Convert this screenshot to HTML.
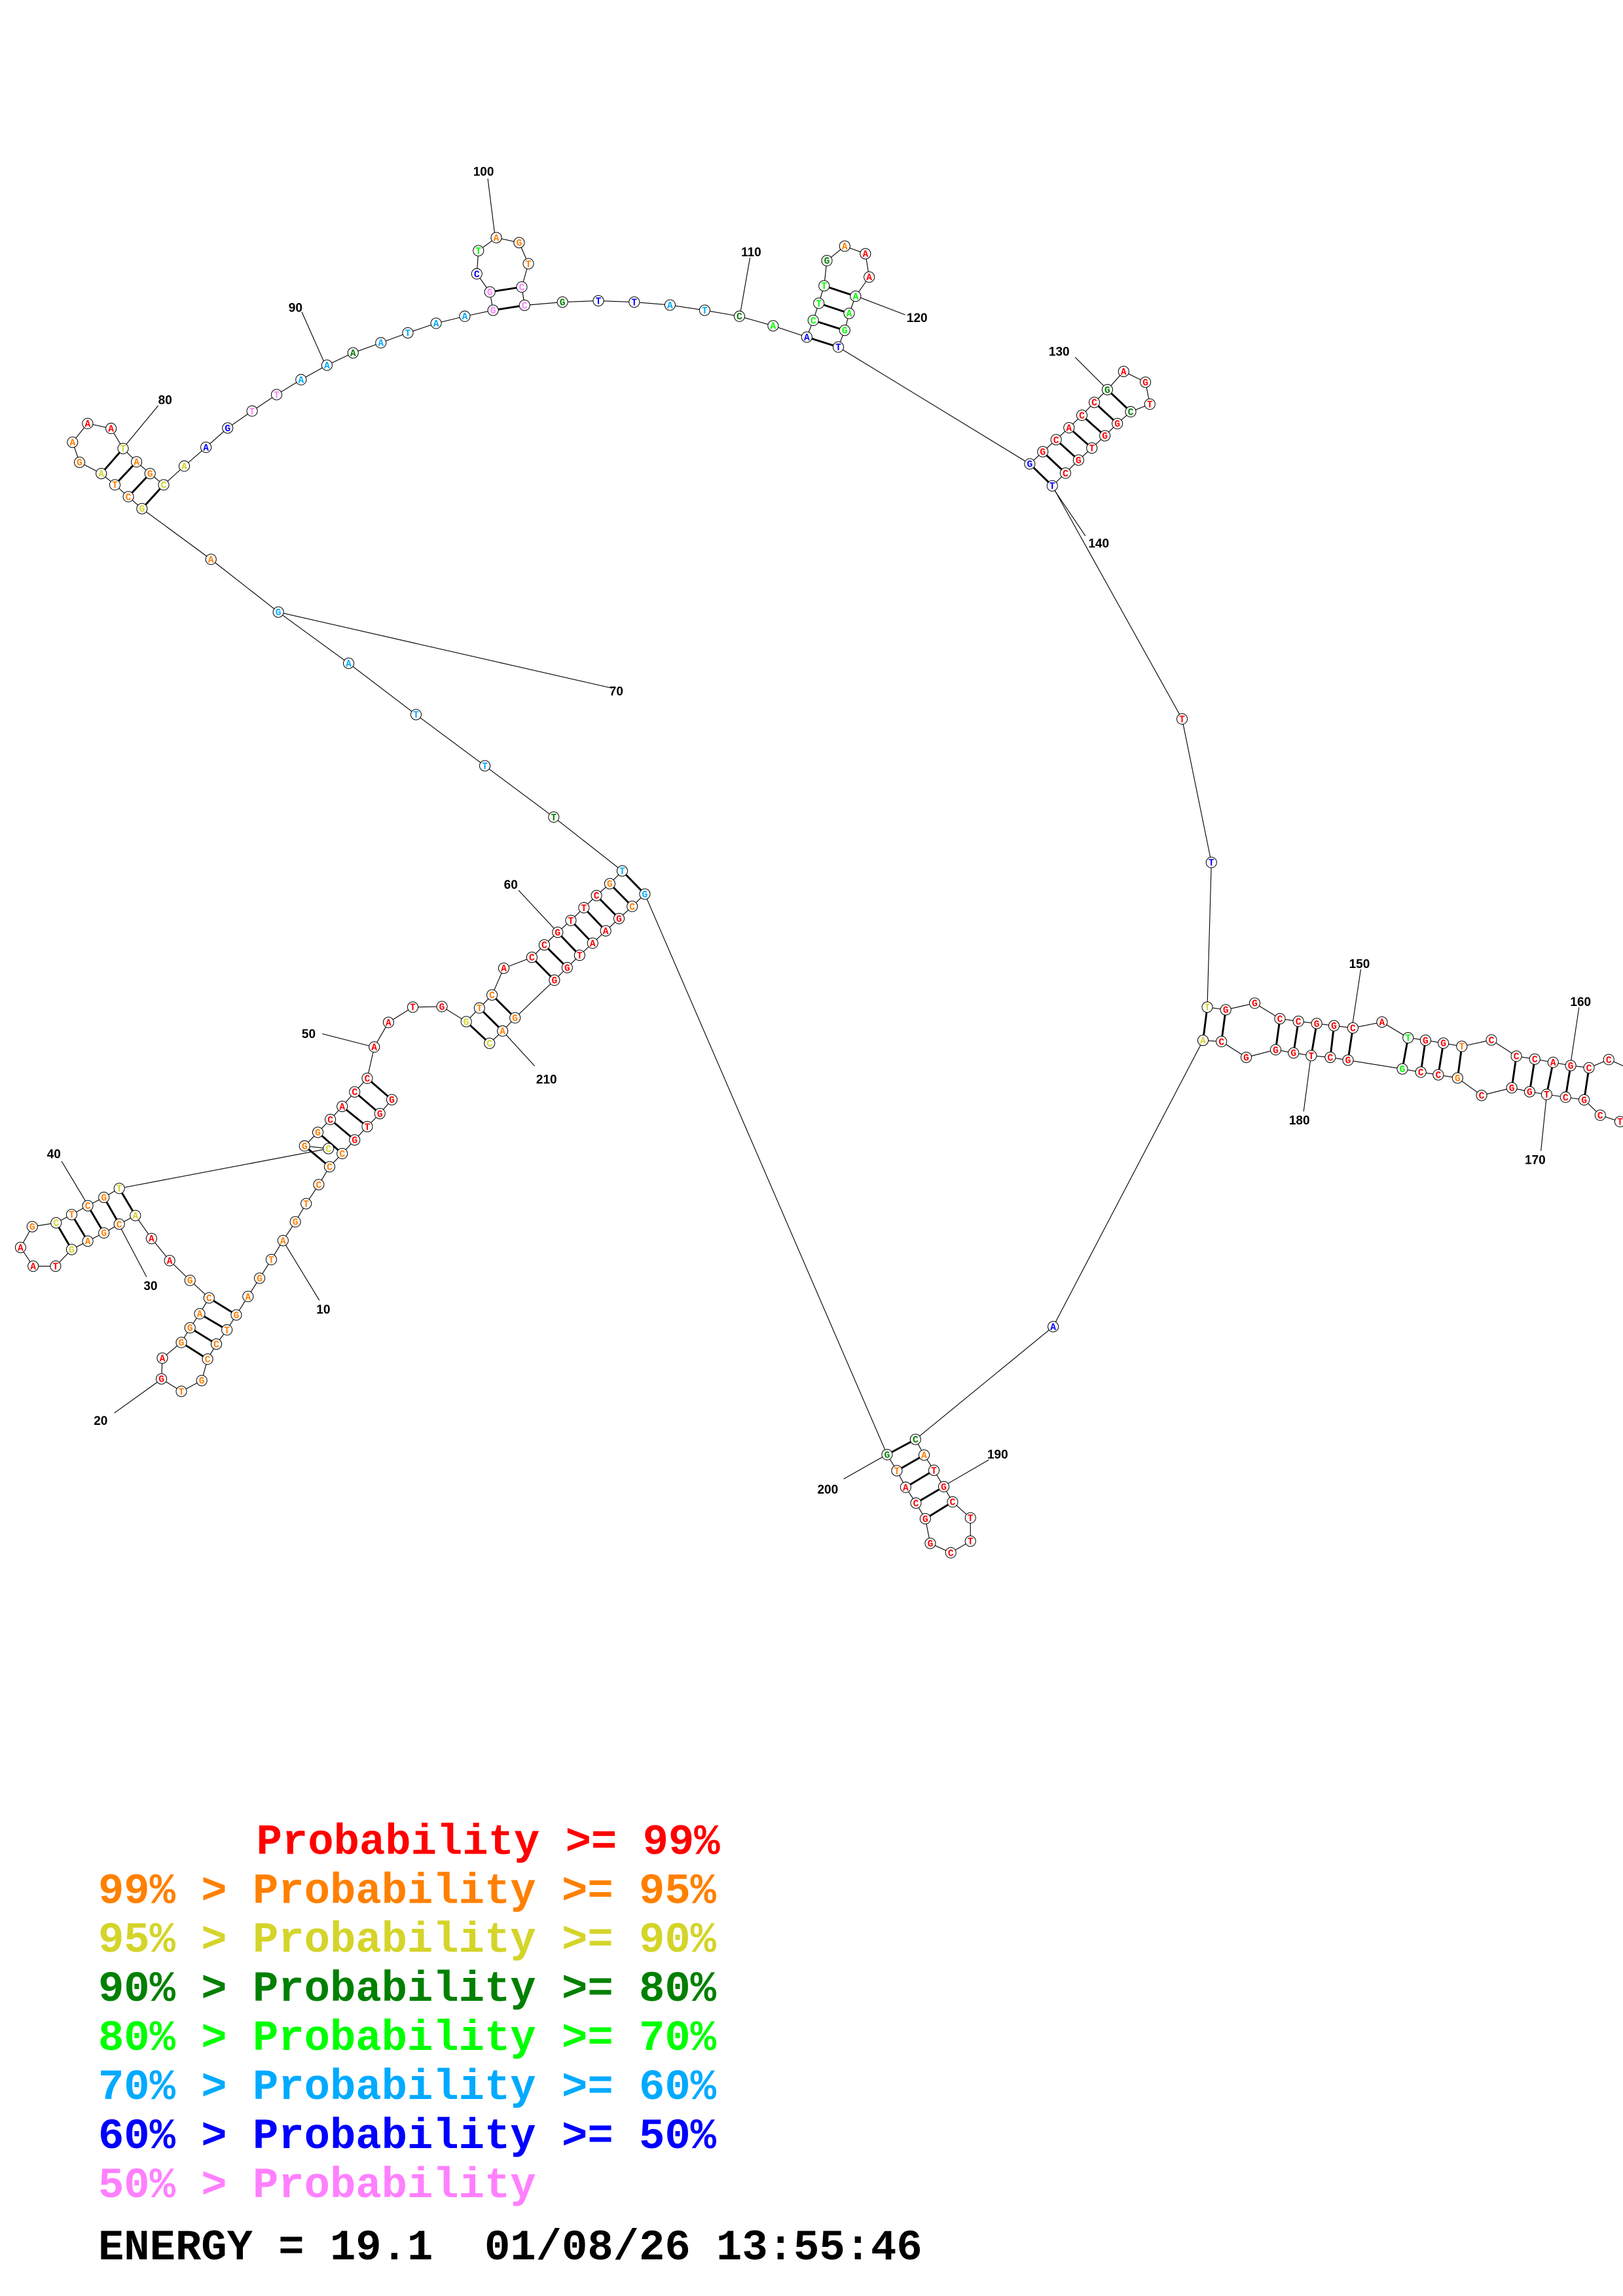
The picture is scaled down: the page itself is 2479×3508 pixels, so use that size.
<!DOCTYPE html>
<html><head><meta charset="utf-8"><style>
html,body{margin:0;padding:0;background:#fff;}
svg{display:block;}
.n text{font-family:"Liberation Mono",monospace;font-weight:bold;font-size:6.5px;text-anchor:middle;}
.R{fill:#ff0000}.O{fill:#ff8000}.Y{fill:#d4d42a}.D{fill:#008000}.L{fill:#00ff00}.C{fill:#00aaff}.B{fill:#0000ff}.P{fill:#ff80ff}
.lab{font-family:"Liberation Sans",sans-serif;font-weight:bold;font-size:8.5px;fill:#000}
.leg{font-family:"Liberation Mono",monospace;font-weight:bold;font-size:29.3px;}
</style></head><body>
<svg width="2479" height="3508" viewBox="0 0 1108 1568" xmlns="http://www.w3.org/2000/svg">
<rect width="1108" height="1568" fill="#fff"/>
<g stroke="#000" stroke-width="0.5" fill="none">
<polyline points="267.5,751 259.3,760.5 250.7,769.4 242.1,778.5 233.6,787.8 225,796.8 217.6,809 209,822 201.6,834.4 193.2,847.2 185.2,860.2 177.2,872.9 169.3,885.4 161.3,898 154.9,908.2 147.7,917.9 141.7,928.2 137.7,942.8 123.8,950.2 110.2,941.7 110.8,927.5 123.8,916.8 129.7,906.8 136.3,897.2 142.7,886.4 129.7,874.4 115.8,860.9 103.4,845.8 92.4,830.1 81.4,836 70.9,842 59.9,847.6 48.9,853.3 37.9,864.7 22.6,864.7 14,851.9 22,837.7 38.3,835.1 48.9,829.5 59.9,823.4 70.9,817.7 81.4,811.6 224.2,784.4 207.9,782.6 217,773.3 225.5,764.5 233.6,755.6 242.1,745.7 250.7,736.4 255.5,715 265.2,698.2 281.8,687.8 301.7,687.4 318.3,697.7 327.3,688.4 335.9,679.5 343.9,661.2 363.1,653.8 371.6,645.3 380.7,636.7 389.7,628.6 398.6,619.9 407.2,611.6 416.3,603.5 424.8,594.8 378,558 331,523 284,488 238,453 190,418 144,382 96.9,347.4 87.6,339.2 78.4,331.1 69.1,323.4 54.3,315.7 49.5,302 59.8,289.2 75.8,292.6 84,306.3 93.2,315.4 102.4,323.4 111.7,331.1 125.8,318.3 140.6,305.5 155.4,292.3 172.1,280.7 188.8,269.5 205.5,259.3 223.2,249.4 241,241 260,234.1 278.4,227.3 297.7,220.8 317.3,216 336.6,211.9 334.4,199.4 325.5,187 326.6,171.2 338.8,162.3 354.4,165.7 360.7,180.1 356.2,196 358.1,208.5 384,206.3 408.5,205.4 433,206.3 457.4,208.3 481.1,211.9 504.8,216 527.8,222.5 550.8,230.2 555.2,218.8 559,207.1 562.6,195.2 564.5,178 576.7,168.1 590.8,173.3 593.4,189.2 584.1,202.3 579.7,214 576.7,225.6 572.3,237 703,316.8 711.9,308.5 721,300.3 729.8,292.1 738.6,283.6 747.1,274.8 756,266.1 767.1,253.7 782,261 785,276 771.9,281.2 762.8,289.3 754.3,297.6 745.4,306 736.3,314.2 727.4,323.1 718.4,331.8 807,491 827,589 824.2,687.8 836.8,689.6 856.6,685.1 873.8,695.7 886.4,697.5 898.9,699 910.7,700.5 923.6,702 943.5,698 961.3,708.7 973.2,710.4 985.4,712.4 998,714.6 1018.2,710.2 1035.2,721.3 1047.8,723.3 1060.3,725.5 1072.3,727.7 1084.8,729.2 1098.3,723.6 1113,730 1120,745 1118,760 1106,766 1092.5,761.6 1081.5,751.1 1068.8,749.3 1055.9,747.4 1044.3,745.6 1032.1,742.9 1011.5,748.1 995.1,736.2 981.9,734 970,732.2 957.4,730 920.3,724 908.2,722.1 895.2,720.9 883.1,719.1 870.9,716.9 850.8,722.1 833.9,711.3 821.3,710.5 719,906 625,983 630.9,993.7 637.6,1004.1 644.3,1015.3 650.3,1025.7 662.5,1036.6 662.5,1052.5 649.1,1060.4 635.1,1054 631.7,1037.2 625.3,1026.5 618.3,1015.7 612.3,1004.4 605.6,993.4 440.2,610.6 431.6,619 422.6,627.3 413.5,635.7 404.6,644.1 395.7,652.4 387.2,660.8 378.5,669.4 351.6,695.1 343.1,704.1 334.2,712.5"/>
<path d="M193,847L218,888M110,942L78,965M81,836L100,872M60,823L42,793M255,715L220,706M381,637L354,608M190,418L418,470M84,306L108,277M222,249L206,213M338,162L333,122M505,216L512,176M584,202L618,215M756,266L734,244M718,332L741,366M923,702L929,662M1072,728L1078,688M1056,747L1052,786M895,721L890,759M644,1015L675,997M606,993L576,1010M343,704L365,728"/>
</g>
<g stroke="#000" stroke-width="1.3">
<path d="M267.5,751L250.7,736.4M259.3,760.5L242.1,745.7M250.7,769.4L233.6,755.6M242.1,778.5L225.5,764.5M233.6,787.8L217,773.3M225,796.8L207.9,782.6
M123.8,916.8L141.7,928.2M129.7,906.8L147.7,917.9M136.3,897.2L154.9,908.2M142.7,886.4L161.3,898
M81.4,811.6L92.4,830.1M70.9,817.7L81.4,836M59.9,823.4L70.9,842M48.9,829.5L59.9,847.6M38.3,835.1L48.9,853.3
M318.3,697.7L334.2,712.5M327.3,688.4L343.1,704.1M335.9,679.5L351.6,695.1M363.1,653.8L378.5,669.4M371.6,645.3L387.2,660.8M380.7,636.7L395.7,652.4M389.7,628.6L404.6,644.1M398.6,619.9L413.5,635.7M407.2,611.6L422.6,627.3M416.3,603.5L431.6,619M424.8,594.8L440.2,610.6
M96.9,347.4L111.7,331.1M87.6,339.2L102.4,323.4M78.4,331.1L93.2,315.4M69.1,323.4L84,306.3
M336.6,211.9L358.1,208.5M334.4,199.4L356.2,196
M550.8,230.2L572.3,237M555.2,218.8L576.7,225.6M559,207.1L579.7,214M562.6,195.2L584.1,202.3
M703,316.8L718.4,331.8M711.9,308.5L727.4,323.1M721,300.3L736.3,314.2M729.8,292.1L745.4,306M738.6,283.6L754.3,297.6M747.1,274.8L762.8,289.3M756,266.1L771.9,281.2
M824.2,687.8L821.3,710.5M836.8,689.6L833.9,711.3M873.8,695.7L870.9,716.9M886.4,697.5L883.1,719.1M898.9,699L895.2,720.9M910.7,700.5L908.2,722.1M923.6,702L920.3,724M961.3,708.7L957.4,730M973.2,710.4L970,732.2M985.4,712.4L981.9,734M998,714.6L995.1,736.2M1035.2,721.3L1032.1,742.9M1047.8,723.3L1044.3,745.6M1060.3,725.5L1055.9,747.4M1072.3,727.7L1068.8,749.3M1084.8,729.2L1081.5,751.1
M625,983L605.6,993.4M630.9,993.7L612.3,1004.4M637.6,1004.1L618.3,1015.7M644.3,1015.3L625.3,1026.5M650.3,1025.7L631.7,1037.2"/>
</g>
<g class="n">
<g fill="#fff" stroke="#000" stroke-width="0.45">
<circle cx="267.5" cy="751" r="3.6"/><circle cx="259.3" cy="760.5" r="3.6"/><circle cx="250.7" cy="769.4" r="3.6"/><circle cx="242.1" cy="778.5" r="3.6"/><circle cx="233.6" cy="787.8" r="3.6"/><circle cx="225" cy="796.8" r="3.6"/><circle cx="217.6" cy="809" r="3.6"/><circle cx="209" cy="822" r="3.6"/><circle cx="201.6" cy="834.4" r="3.6"/><circle cx="193.2" cy="847.2" r="3.6"/><circle cx="185.2" cy="860.2" r="3.6"/><circle cx="177.2" cy="872.9" r="3.6"/><circle cx="169.3" cy="885.4" r="3.6"/><circle cx="161.3" cy="898" r="3.6"/><circle cx="154.9" cy="908.2" r="3.6"/><circle cx="147.7" cy="917.9" r="3.6"/><circle cx="141.7" cy="928.2" r="3.6"/><circle cx="137.7" cy="942.8" r="3.6"/><circle cx="123.8" cy="950.2" r="3.6"/><circle cx="110.2" cy="941.7" r="3.6"/><circle cx="110.8" cy="927.5" r="3.6"/><circle cx="123.8" cy="916.8" r="3.6"/><circle cx="129.7" cy="906.8" r="3.6"/><circle cx="136.3" cy="897.2" r="3.6"/><circle cx="142.7" cy="886.4" r="3.6"/><circle cx="129.7" cy="874.4" r="3.6"/><circle cx="115.8" cy="860.9" r="3.6"/><circle cx="103.4" cy="845.8" r="3.6"/><circle cx="92.4" cy="830.1" r="3.6"/><circle cx="81.4" cy="836" r="3.6"/><circle cx="70.9" cy="842" r="3.6"/><circle cx="59.9" cy="847.6" r="3.6"/><circle cx="48.9" cy="853.3" r="3.6"/><circle cx="37.9" cy="864.7" r="3.6"/><circle cx="22.6" cy="864.7" r="3.6"/><circle cx="14" cy="851.9" r="3.6"/><circle cx="22" cy="837.7" r="3.6"/><circle cx="38.3" cy="835.1" r="3.6"/><circle cx="48.9" cy="829.5" r="3.6"/><circle cx="59.9" cy="823.4" r="3.6"/><circle cx="70.9" cy="817.7" r="3.6"/><circle cx="81.4" cy="811.6" r="3.6"/><circle cx="224.2" cy="784.4" r="3.6"/><circle cx="207.9" cy="782.6" r="3.6"/><circle cx="217" cy="773.3" r="3.6"/><circle cx="225.5" cy="764.5" r="3.6"/><circle cx="233.6" cy="755.6" r="3.6"/><circle cx="242.1" cy="745.7" r="3.6"/><circle cx="250.7" cy="736.4" r="3.6"/><circle cx="255.5" cy="715" r="3.6"/><circle cx="265.2" cy="698.2" r="3.6"/><circle cx="281.8" cy="687.8" r="3.6"/><circle cx="301.7" cy="687.4" r="3.6"/><circle cx="318.3" cy="697.7" r="3.6"/><circle cx="327.3" cy="688.4" r="3.6"/><circle cx="335.9" cy="679.5" r="3.6"/><circle cx="343.9" cy="661.2" r="3.6"/><circle cx="363.1" cy="653.8" r="3.6"/><circle cx="371.6" cy="645.3" r="3.6"/><circle cx="380.7" cy="636.7" r="3.6"/><circle cx="389.7" cy="628.6" r="3.6"/><circle cx="398.6" cy="619.9" r="3.6"/><circle cx="407.2" cy="611.6" r="3.6"/><circle cx="416.3" cy="603.5" r="3.6"/><circle cx="424.8" cy="594.8" r="3.6"/><circle cx="378" cy="558" r="3.6"/><circle cx="331" cy="523" r="3.6"/><circle cx="284" cy="488" r="3.6"/><circle cx="238" cy="453" r="3.6"/><circle cx="190" cy="418" r="3.6"/><circle cx="144" cy="382" r="3.6"/><circle cx="96.9" cy="347.4" r="3.6"/><circle cx="87.6" cy="339.2" r="3.6"/><circle cx="78.4" cy="331.1" r="3.6"/><circle cx="69.1" cy="323.4" r="3.6"/><circle cx="54.3" cy="315.7" r="3.6"/><circle cx="49.5" cy="302" r="3.6"/><circle cx="59.8" cy="289.2" r="3.6"/><circle cx="75.8" cy="292.6" r="3.6"/><circle cx="84" cy="306.3" r="3.6"/><circle cx="93.2" cy="315.4" r="3.6"/><circle cx="102.4" cy="323.4" r="3.6"/><circle cx="111.7" cy="331.1" r="3.6"/><circle cx="125.8" cy="318.3" r="3.6"/><circle cx="140.6" cy="305.5" r="3.6"/><circle cx="155.4" cy="292.3" r="3.6"/><circle cx="172.1" cy="280.7" r="3.6"/><circle cx="188.8" cy="269.5" r="3.6"/><circle cx="205.5" cy="259.3" r="3.6"/><circle cx="223.2" cy="249.4" r="3.6"/><circle cx="241" cy="241" r="3.6"/><circle cx="260" cy="234.1" r="3.6"/><circle cx="278.4" cy="227.3" r="3.6"/><circle cx="297.7" cy="220.8" r="3.6"/><circle cx="317.3" cy="216" r="3.6"/><circle cx="336.6" cy="211.9" r="3.6"/><circle cx="334.4" cy="199.4" r="3.6"/><circle cx="325.5" cy="187" r="3.6"/><circle cx="326.6" cy="171.2" r="3.6"/><circle cx="338.8" cy="162.3" r="3.6"/><circle cx="354.4" cy="165.7" r="3.6"/><circle cx="360.7" cy="180.1" r="3.6"/><circle cx="356.2" cy="196" r="3.6"/><circle cx="358.1" cy="208.5" r="3.6"/><circle cx="384" cy="206.3" r="3.6"/><circle cx="408.5" cy="205.4" r="3.6"/><circle cx="433" cy="206.3" r="3.6"/><circle cx="457.4" cy="208.3" r="3.6"/><circle cx="481.1" cy="211.9" r="3.6"/><circle cx="504.8" cy="216" r="3.6"/><circle cx="527.8" cy="222.5" r="3.6"/><circle cx="550.8" cy="230.2" r="3.6"/><circle cx="555.2" cy="218.8" r="3.6"/><circle cx="559" cy="207.1" r="3.6"/><circle cx="562.6" cy="195.2" r="3.6"/><circle cx="564.5" cy="178" r="3.6"/><circle cx="576.7" cy="168.1" r="3.6"/><circle cx="590.8" cy="173.3" r="3.6"/><circle cx="593.4" cy="189.2" r="3.6"/><circle cx="584.1" cy="202.3" r="3.6"/><circle cx="579.7" cy="214" r="3.6"/><circle cx="576.7" cy="225.6" r="3.6"/><circle cx="572.3" cy="237" r="3.6"/><circle cx="703" cy="316.8" r="3.6"/><circle cx="711.9" cy="308.5" r="3.6"/><circle cx="721" cy="300.3" r="3.6"/><circle cx="729.8" cy="292.1" r="3.6"/><circle cx="738.6" cy="283.6" r="3.6"/><circle cx="747.1" cy="274.8" r="3.6"/><circle cx="756" cy="266.1" r="3.6"/><circle cx="767.1" cy="253.7" r="3.6"/><circle cx="782" cy="261" r="3.6"/><circle cx="785" cy="276" r="3.6"/><circle cx="771.9" cy="281.2" r="3.6"/><circle cx="762.8" cy="289.3" r="3.6"/><circle cx="754.3" cy="297.6" r="3.6"/><circle cx="745.4" cy="306" r="3.6"/><circle cx="736.3" cy="314.2" r="3.6"/><circle cx="727.4" cy="323.1" r="3.6"/><circle cx="718.4" cy="331.8" r="3.6"/><circle cx="807" cy="491" r="3.6"/><circle cx="827" cy="589" r="3.6"/><circle cx="824.2" cy="687.8" r="3.6"/><circle cx="836.8" cy="689.6" r="3.6"/><circle cx="856.6" cy="685.1" r="3.6"/><circle cx="873.8" cy="695.7" r="3.6"/><circle cx="886.4" cy="697.5" r="3.6"/><circle cx="898.9" cy="699" r="3.6"/><circle cx="910.7" cy="700.5" r="3.6"/><circle cx="923.6" cy="702" r="3.6"/><circle cx="943.5" cy="698" r="3.6"/><circle cx="961.3" cy="708.7" r="3.6"/><circle cx="973.2" cy="710.4" r="3.6"/><circle cx="985.4" cy="712.4" r="3.6"/><circle cx="998" cy="714.6" r="3.6"/><circle cx="1018.2" cy="710.2" r="3.6"/><circle cx="1035.2" cy="721.3" r="3.6"/><circle cx="1047.8" cy="723.3" r="3.6"/><circle cx="1060.3" cy="725.5" r="3.6"/><circle cx="1072.3" cy="727.7" r="3.6"/><circle cx="1084.8" cy="729.2" r="3.6"/><circle cx="1098.3" cy="723.6" r="3.6"/><circle cx="1113" cy="730" r="3.6"/><circle cx="1106" cy="766" r="3.6"/><circle cx="1092.5" cy="761.6" r="3.6"/><circle cx="1081.5" cy="751.1" r="3.6"/><circle cx="1068.8" cy="749.3" r="3.6"/><circle cx="1055.9" cy="747.4" r="3.6"/><circle cx="1044.3" cy="745.6" r="3.6"/><circle cx="1032.1" cy="742.9" r="3.6"/><circle cx="1011.5" cy="748.1" r="3.6"/><circle cx="995.1" cy="736.2" r="3.6"/><circle cx="981.9" cy="734" r="3.6"/><circle cx="970" cy="732.2" r="3.6"/><circle cx="957.4" cy="730" r="3.6"/><circle cx="920.3" cy="724" r="3.6"/><circle cx="908.2" cy="722.1" r="3.6"/><circle cx="895.2" cy="720.9" r="3.6"/><circle cx="883.1" cy="719.1" r="3.6"/><circle cx="870.9" cy="716.9" r="3.6"/><circle cx="850.8" cy="722.1" r="3.6"/><circle cx="833.9" cy="711.3" r="3.6"/><circle cx="821.3" cy="710.5" r="3.6"/><circle cx="719" cy="906" r="3.6"/><circle cx="625" cy="983" r="3.6"/><circle cx="630.9" cy="993.7" r="3.6"/><circle cx="637.6" cy="1004.1" r="3.6"/><circle cx="644.3" cy="1015.3" r="3.6"/><circle cx="650.3" cy="1025.7" r="3.6"/><circle cx="662.5" cy="1036.6" r="3.6"/><circle cx="662.5" cy="1052.5" r="3.6"/><circle cx="649.1" cy="1060.4" r="3.6"/><circle cx="635.1" cy="1054" r="3.6"/><circle cx="631.7" cy="1037.2" r="3.6"/><circle cx="625.3" cy="1026.5" r="3.6"/><circle cx="618.3" cy="1015.7" r="3.6"/><circle cx="612.3" cy="1004.4" r="3.6"/><circle cx="605.6" cy="993.4" r="3.6"/><circle cx="440.2" cy="610.6" r="3.6"/><circle cx="431.6" cy="619" r="3.6"/><circle cx="422.6" cy="627.3" r="3.6"/><circle cx="413.5" cy="635.7" r="3.6"/><circle cx="404.6" cy="644.1" r="3.6"/><circle cx="395.7" cy="652.4" r="3.6"/><circle cx="387.2" cy="660.8" r="3.6"/><circle cx="378.5" cy="669.4" r="3.6"/><circle cx="351.6" cy="695.1" r="3.6"/><circle cx="343.1" cy="704.1" r="3.6"/><circle cx="334.2" cy="712.5" r="3.6"/>
</g>
<g transform="translate(0,2.2)">
<text class="R" x="267.5" y="751">G</text><text class="R" x="259.3" y="760.5">G</text><text class="R" x="250.7" y="769.4">T</text><text class="R" x="242.1" y="778.5">G</text><text class="O" x="233.6" y="787.8">C</text><text class="O" x="225" y="796.8">C</text><text class="O" x="217.6" y="809">C</text><text class="O" x="209" y="822">T</text><text class="O" x="201.6" y="834.4">G</text><text class="O" x="193.2" y="847.2">A</text><text class="O" x="185.2" y="860.2">T</text><text class="O" x="177.2" y="872.9">G</text><text class="O" x="169.3" y="885.4">A</text><text class="O" x="161.3" y="898">G</text><text class="O" x="154.9" y="908.2">T</text><text class="O" x="147.7" y="917.9">C</text><text class="O" x="141.7" y="928.2">C</text><text class="O" x="137.7" y="942.8">G</text><text class="O" x="123.8" y="950.2">T</text><text class="R" x="110.2" y="941.7">G</text><text class="R" x="110.8" y="927.5">A</text><text class="O" x="123.8" y="916.8">G</text><text class="O" x="129.7" y="906.8">G</text><text class="O" x="136.3" y="897.2">A</text><text class="O" x="142.7" y="886.4">C</text><text class="O" x="129.7" y="874.4">G</text><text class="R" x="115.8" y="860.9">A</text><text class="R" x="103.4" y="845.8">A</text><text class="Y" x="92.4" y="830.1">A</text><text class="O" x="81.4" y="836">C</text><text class="O" x="70.9" y="842">G</text><text class="O" x="59.9" y="847.6">A</text><text class="Y" x="48.9" y="853.3">G</text><text class="R" x="37.9" y="864.7">T</text><text class="R" x="22.6" y="864.7">A</text><text class="R" x="14" y="851.9">A</text><text class="O" x="22" y="837.7">G</text><text class="Y" x="38.3" y="835.1">C</text><text class="O" x="48.9" y="829.5">T</text><text class="O" x="59.9" y="823.4">C</text><text class="O" x="70.9" y="817.7">G</text><text class="Y" x="81.4" y="811.6">T</text><text class="Y" x="224.2" y="784.4">C</text><text class="O" x="207.9" y="782.6">G</text><text class="O" x="217" y="773.3">G</text><text class="R" x="225.5" y="764.5">C</text><text class="R" x="233.6" y="755.6">A</text><text class="R" x="242.1" y="745.7">C</text><text class="R" x="250.7" y="736.4">C</text><text class="R" x="255.5" y="715">A</text><text class="R" x="265.2" y="698.2">A</text><text class="R" x="281.8" y="687.8">T</text><text class="R" x="301.7" y="687.4">G</text><text class="Y" x="318.3" y="697.7">G</text><text class="O" x="327.3" y="688.4">T</text><text class="O" x="335.9" y="679.5">C</text><text class="R" x="343.9" y="661.2">A</text><text class="R" x="363.1" y="653.8">C</text><text class="R" x="371.6" y="645.3">C</text><text class="R" x="380.7" y="636.7">G</text><text class="R" x="389.7" y="628.6">T</text><text class="R" x="398.6" y="619.9">T</text><text class="R" x="407.2" y="611.6">C</text><text class="O" x="416.3" y="603.5">G</text><text class="C" x="424.8" y="594.8">T</text><text class="D" x="378" y="558">T</text><text class="C" x="331" y="523">T</text><text class="C" x="284" y="488">T</text><text class="C" x="238" y="453">A</text><text class="C" x="190" y="418">G</text><text class="O" x="144" y="382">A</text><text class="Y" x="96.9" y="347.4">G</text><text class="O" x="87.6" y="339.2">C</text><text class="O" x="78.4" y="331.1">T</text><text class="Y" x="69.1" y="323.4">A</text><text class="O" x="54.3" y="315.7">G</text><text class="O" x="49.5" y="302">A</text><text class="R" x="59.8" y="289.2">A</text><text class="R" x="75.8" y="292.6">A</text><text class="Y" x="84" y="306.3">T</text><text class="O" x="93.2" y="315.4">A</text><text class="O" x="102.4" y="323.4">G</text><text class="Y" x="111.7" y="331.1">C</text><text class="Y" x="125.8" y="318.3">A</text><text class="B" x="140.6" y="305.5">A</text><text class="B" x="155.4" y="292.3">G</text><text class="P" x="172.1" y="280.7">T</text><text class="P" x="188.8" y="269.5">T</text><text class="C" x="205.5" y="259.3">A</text><text class="C" x="223.2" y="249.4">A</text><text class="D" x="241" y="241">A</text><text class="C" x="260" y="234.1">A</text><text class="C" x="278.4" y="227.3">T</text><text class="C" x="297.7" y="220.8">A</text><text class="C" x="317.3" y="216">A</text><text class="P" x="336.6" y="211.9">G</text><text class="P" x="334.4" y="199.4">G</text><text class="B" x="325.5" y="187">C</text><text class="L" x="326.6" y="171.2">T</text><text class="O" x="338.8" y="162.3">A</text><text class="O" x="354.4" y="165.7">G</text><text class="O" x="360.7" y="180.1">T</text><text class="P" x="356.2" y="196">C</text><text class="P" x="358.1" y="208.5">C</text><text class="D" x="384" y="206.3">G</text><text class="B" x="408.5" y="205.4">T</text><text class="B" x="433" y="206.3">T</text><text class="C" x="457.4" y="208.3">A</text><text class="C" x="481.1" y="211.9">T</text><text class="D" x="504.8" y="216">C</text><text class="L" x="527.8" y="222.5">A</text><text class="B" x="550.8" y="230.2">A</text><text class="L" x="555.2" y="218.8">C</text><text class="L" x="559" y="207.1">T</text><text class="L" x="562.6" y="195.2">T</text><text class="D" x="564.5" y="178">G</text><text class="O" x="576.7" y="168.1">A</text><text class="R" x="590.8" y="173.3">A</text><text class="R" x="593.4" y="189.2">A</text><text class="L" x="584.1" y="202.3">A</text><text class="L" x="579.7" y="214">A</text><text class="L" x="576.7" y="225.6">G</text><text class="B" x="572.3" y="237">T</text><text class="B" x="703" y="316.8">G</text><text class="R" x="711.9" y="308.5">G</text><text class="R" x="721" y="300.3">C</text><text class="R" x="729.8" y="292.1">A</text><text class="R" x="738.6" y="283.6">C</text><text class="R" x="747.1" y="274.8">C</text><text class="D" x="756" y="266.1">G</text><text class="R" x="767.1" y="253.7">A</text><text class="R" x="782" y="261">G</text><text class="R" x="785" y="276">T</text><text class="D" x="771.9" y="281.2">C</text><text class="R" x="762.8" y="289.3">G</text><text class="R" x="754.3" y="297.6">G</text><text class="R" x="745.4" y="306">T</text><text class="R" x="736.3" y="314.2">G</text><text class="R" x="727.4" y="323.1">C</text><text class="B" x="718.4" y="331.8">T</text><text class="R" x="807" y="491">T</text><text class="B" x="827" y="589">T</text><text class="Y" x="824.2" y="687.8">T</text><text class="R" x="836.8" y="689.6">G</text><text class="R" x="856.6" y="685.1">G</text><text class="R" x="873.8" y="695.7">C</text><text class="R" x="886.4" y="697.5">C</text><text class="R" x="898.9" y="699">G</text><text class="R" x="910.7" y="700.5">G</text><text class="R" x="923.6" y="702">C</text><text class="R" x="943.5" y="698">A</text><text class="L" x="961.3" y="708.7">T</text><text class="R" x="973.2" y="710.4">G</text><text class="R" x="985.4" y="712.4">G</text><text class="O" x="998" y="714.6">T</text><text class="R" x="1018.2" y="710.2">C</text><text class="R" x="1035.2" y="721.3">C</text><text class="R" x="1047.8" y="723.3">C</text><text class="R" x="1060.3" y="725.5">A</text><text class="R" x="1072.3" y="727.7">G</text><text class="R" x="1084.8" y="729.2">C</text><text class="R" x="1098.3" y="723.6">C</text><text class="R" x="1113" y="730">C</text><text class="R" x="1106" y="766">T</text><text class="R" x="1092.5" y="761.6">C</text><text class="R" x="1081.5" y="751.1">G</text><text class="R" x="1068.8" y="749.3">C</text><text class="R" x="1055.9" y="747.4">T</text><text class="R" x="1044.3" y="745.6">G</text><text class="R" x="1032.1" y="742.9">G</text><text class="R" x="1011.5" y="748.1">C</text><text class="O" x="995.1" y="736.2">G</text><text class="R" x="981.9" y="734">C</text><text class="R" x="970" y="732.2">C</text><text class="L" x="957.4" y="730">G</text><text class="R" x="920.3" y="724">G</text><text class="R" x="908.2" y="722.1">C</text><text class="R" x="895.2" y="720.9">T</text><text class="R" x="883.1" y="719.1">G</text><text class="R" x="870.9" y="716.9">G</text><text class="R" x="850.8" y="722.1">G</text><text class="R" x="833.9" y="711.3">C</text><text class="Y" x="821.3" y="710.5">A</text><text class="B" x="719" y="906">A</text><text class="D" x="625" y="983">C</text><text class="O" x="630.9" y="993.7">A</text><text class="R" x="637.6" y="1004.1">T</text><text class="R" x="644.3" y="1015.3">G</text><text class="R" x="650.3" y="1025.7">C</text><text class="R" x="662.5" y="1036.6">T</text><text class="R" x="662.5" y="1052.5">T</text><text class="R" x="649.1" y="1060.4">C</text><text class="R" x="635.1" y="1054">G</text><text class="R" x="631.7" y="1037.2">G</text><text class="R" x="625.3" y="1026.5">C</text><text class="R" x="618.3" y="1015.7">A</text><text class="O" x="612.3" y="1004.4">T</text><text class="D" x="605.6" y="993.4">G</text><text class="C" x="440.2" y="610.6">G</text><text class="O" x="431.6" y="619">C</text><text class="R" x="422.6" y="627.3">G</text><text class="R" x="413.5" y="635.7">A</text><text class="R" x="404.6" y="644.1">A</text><text class="R" x="395.7" y="652.4">T</text><text class="R" x="387.2" y="660.8">G</text><text class="R" x="378.5" y="669.4">G</text><text class="O" x="351.6" y="695.1">G</text><text class="O" x="343.1" y="704.1">A</text><text class="Y" x="334.2" y="712.5">C</text>
</g>
</g>
<g class="lab">
<text x="216" y="897">10</text><text x="64" y="973">20</text><text x="98" y="881">30</text><text x="32" y="791">40</text><text x="206" y="709">50</text><text x="344" y="607">60</text><text x="416" y="475">70</text><text x="108" y="276">80</text><text x="197" y="213">90</text><text x="323" y="120">100</text><text x="506" y="175">110</text><text x="619" y="220">120</text><text x="716" y="243">130</text><text x="743" y="374">140</text><text x="921" y="661">150</text><text x="1072" y="687">160</text><text x="1041" y="795">170</text><text x="880" y="768">180</text><text x="674" y="996">190</text><text x="558" y="1020">200</text><text x="366" y="740">210</text>
</g>
<g class="leg">
<text x="175" y="1266" fill="#ff0000">Probability &gt;= 99%</text>
<text x="67" y="1299.5" fill="#ff8000">99% &gt; Probability &gt;= 95%</text>
<text x="67" y="1333" fill="#d4d42a">95% &gt; Probability &gt;= 90%</text>
<text x="67" y="1366.5" fill="#008000">90% &gt; Probability &gt;= 80%</text>
<text x="67" y="1400" fill="#00ff00">80% &gt; Probability &gt;= 70%</text>
<text x="67" y="1433.5" fill="#00aaff">70% &gt; Probability &gt;= 60%</text>
<text x="67" y="1467" fill="#0000ff">60% &gt; Probability &gt;= 50%</text>
<text x="67" y="1500.5" fill="#ff80ff">50% &gt; Probability</text>
<text x="67" y="1543" fill="#000">ENERGY = 19.1&#160; 01/08/26 13:55:46</text>
</g>
</svg>
</body></html>
